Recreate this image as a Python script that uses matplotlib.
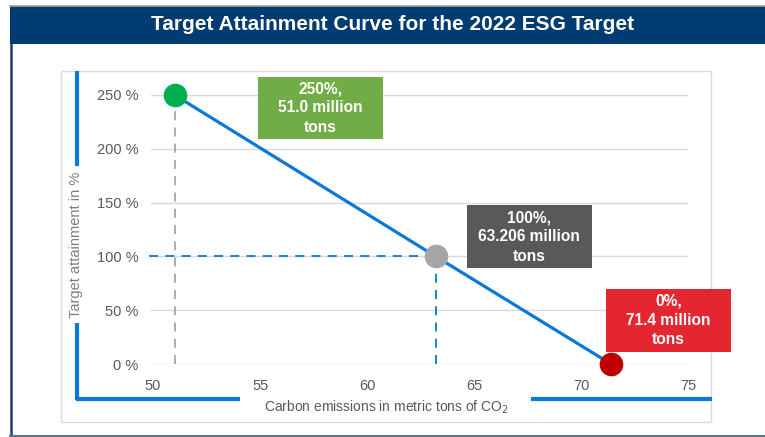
import matplotlib
matplotlib.use("Agg")
import matplotlib.pyplot as plt
import matplotlib.transforms as mtransforms
from matplotlib.patches import Rectangle
from matplotlib.lines import Line2D

# ---------------- data ----------------
emissions = [51.0, 63.206, 71.4]          # million metric tons CO2
attainment = [250, 100, 0]                # %
point_colors = ["#00B050", "#A6A6A6", "#C00000"]
box_colors = ["#70AD47", "#595959", "#E3262F"]
box_labels = ["250%,\n51.0 million\ntons",
              "100%,\n63.206 million\ntons",
              "0%,\n71.4 million\ntons"]
# box offsets from the point (inches): x0, x1, y0, y1
box_offsets = [(0.83, 2.08, -0.44, 0.18),
               (0.31, 1.56, -0.12, 0.51),
               (-0.05, 1.20, 0.12, 0.75)]
xticks = [50, 55, 60, 65, 70, 75]
yticks = [0, 50, 100, 150, 200, 250]
ytick_labels = ["0 %", "50 %", "100 %", "150 %", "200 %", "250 %"]
title = "Target Attainment Curve for the 2022 ESG Target"
xlabel = "Carbon emissions in metric tons of CO$_2$"
ylabel = "Target attainment in %"

W, H = 765, 437
fig = plt.figure(figsize=(W / 100, H / 100), dpi=100)
fig.patch.set_facecolor("white")


def fx(px):
    return px / W


def fy(py):
    return 1 - py / H


navy = "#003C71"
blue = "#0A78D7"

# title bar
fig.add_artist(Rectangle((fx(10), fy(44)), fx(765) - fx(10), fy(6) - fy(44),
                         transform=fig.transFigure, facecolor=navy, edgecolor="none",
                         zorder=-3))
fig.add_artist(Line2D([fx(10), fx(765)], [fy(5.5), fy(5.5)], transform=fig.transFigure,
                      color="#A0A0A0", lw=1.2, zorder=-3))
fig.text(fx(393), fy(25), title, color="white", fontsize=15, fontweight="bold",
         ha="center", va="center", family=["Liberation Sans", "DejaVu Sans"])
# outer frame lines
fig.add_artist(Line2D([fx(11), fx(11)], [fy(44), fy(436)], transform=fig.transFigure,
                      color="#1F3F66", lw=1.8, zorder=-3))
fig.add_artist(Line2D([fx(10), fx(765)], [fy(435.5), fy(435.5)], transform=fig.transFigure,
                      color="#5A7691", lw=1.5, zorder=-3))

# inner chart box
fig.add_artist(Rectangle((fx(61), fy(422)), fx(711) - fx(61), fy(71) - fy(422),
                         transform=fig.transFigure, facecolor="white",
                         edgecolor="#DADADA", lw=1.0, zorder=-2))

# blue bracket lines
for xs, ys in [([77, 77], [71, 166]), ([77, 77], [323, 400]),
               ([75.5, 240], [399, 399]), ([531, 712], [399, 399])]:
    fig.add_artist(Line2D([fx(x) for x in xs], [fy(y) for y in ys],
                          transform=fig.transFigure, color=blue, lw=3.0,
                          solid_capstyle="butt", zorder=-1))

# axes
ax_l, ax_r, ax_t, ax_b = 151, 688, 95, 364
ax = fig.add_axes([fx(ax_l), fy(ax_b), fx(ax_r) - fx(ax_l), fy(ax_t) - fy(ax_b)])
ax.set_zorder(1)
ax.set_facecolor("none")
x_lo = 49.9
ax.set_xlim(x_lo, 75)
ax.set_ylim(0, 250)
for s in ax.spines.values():
    s.set_visible(False)
ax.set_yticks(yticks)
ax.set_yticklabels(ytick_labels)
ax.set_xticks(xticks)
ax.tick_params(length=0, colors="#595959", labelsize=10.5, pad=9)
ax.tick_params(axis="x", pad=11)
for lbl in ax.get_xticklabels() + ax.get_yticklabels():
    lbl.set_family(["Liberation Sans", "DejaVu Sans"])
ax.grid(axis="y", color="#D9D9D9", lw=1.0)
ax.set_axisbelow(True)

ax.set_xlabel(xlabel, color="#595959", fontsize=10, family=["Liberation Sans", "DejaVu Sans"])
ax.xaxis.set_label_coords((386 - ax_l) / (ax_r - ax_l), (ax_b - 407) / (ax_b - ax_t))
ax.xaxis.label.set_va("center")
ax.set_ylabel(ylabel, color="#7F7F7F", fontsize=10.5, family=["Liberation Sans", "DejaVu Sans"])
ax.yaxis.set_label_coords((76 - ax_l) / (ax_r - ax_l), (ax_b - 245) / (ax_b - ax_t))
ax.yaxis.label.set_va("center")

# reference dashed lines
ax.plot([emissions[0], emissions[0]], [0, attainment[0]], color="#A6A6A6",
        lw=1.3, ls=(0, (5, 4)), zorder=2, clip_on=False)
ax.plot([x_lo - 0.1, emissions[1]], [attainment[1], attainment[1]], color=blue,
        lw=1.3, ls=(0, (5, 4)), zorder=2, clip_on=False)
ax.plot([emissions[1], emissions[1]], [0, attainment[1]], color=blue,
        lw=1.3, ls=(0, (5, 4)), zorder=2, clip_on=False)

# main curve
ax.plot(emissions, attainment, color=blue, lw=2.3, zorder=3, clip_on=False)
for x, y, c in zip(emissions, attainment, point_colors):
    ax.plot([x], [y], "o", ms=16, color=c, mec=c, zorder=4, clip_on=False)

# annotation boxes
for x, y, fc, txt, (x0, x1, y0, y1) in zip(emissions, attainment, box_colors,
                                           box_labels, box_offsets):
    trans = fig.dpi_scale_trans + mtransforms.ScaledTranslation(x, y, ax.transData)
    ax.add_artist(Rectangle((x0, y0), x1 - x0, y1 - y0, transform=trans,
                            facecolor=fc, edgecolor="none", zorder=5, clip_on=False))
    ax.text((x0 + x1) / 2, (y0 + y1) / 2, txt, transform=trans, color="white",
            fontsize=11.2, fontweight="bold", ha="center", va="center",
            linespacing=1.35, zorder=6, family=["Liberation Sans", "DejaVu Sans"])

fig.savefig("out.png", dpi=100)
